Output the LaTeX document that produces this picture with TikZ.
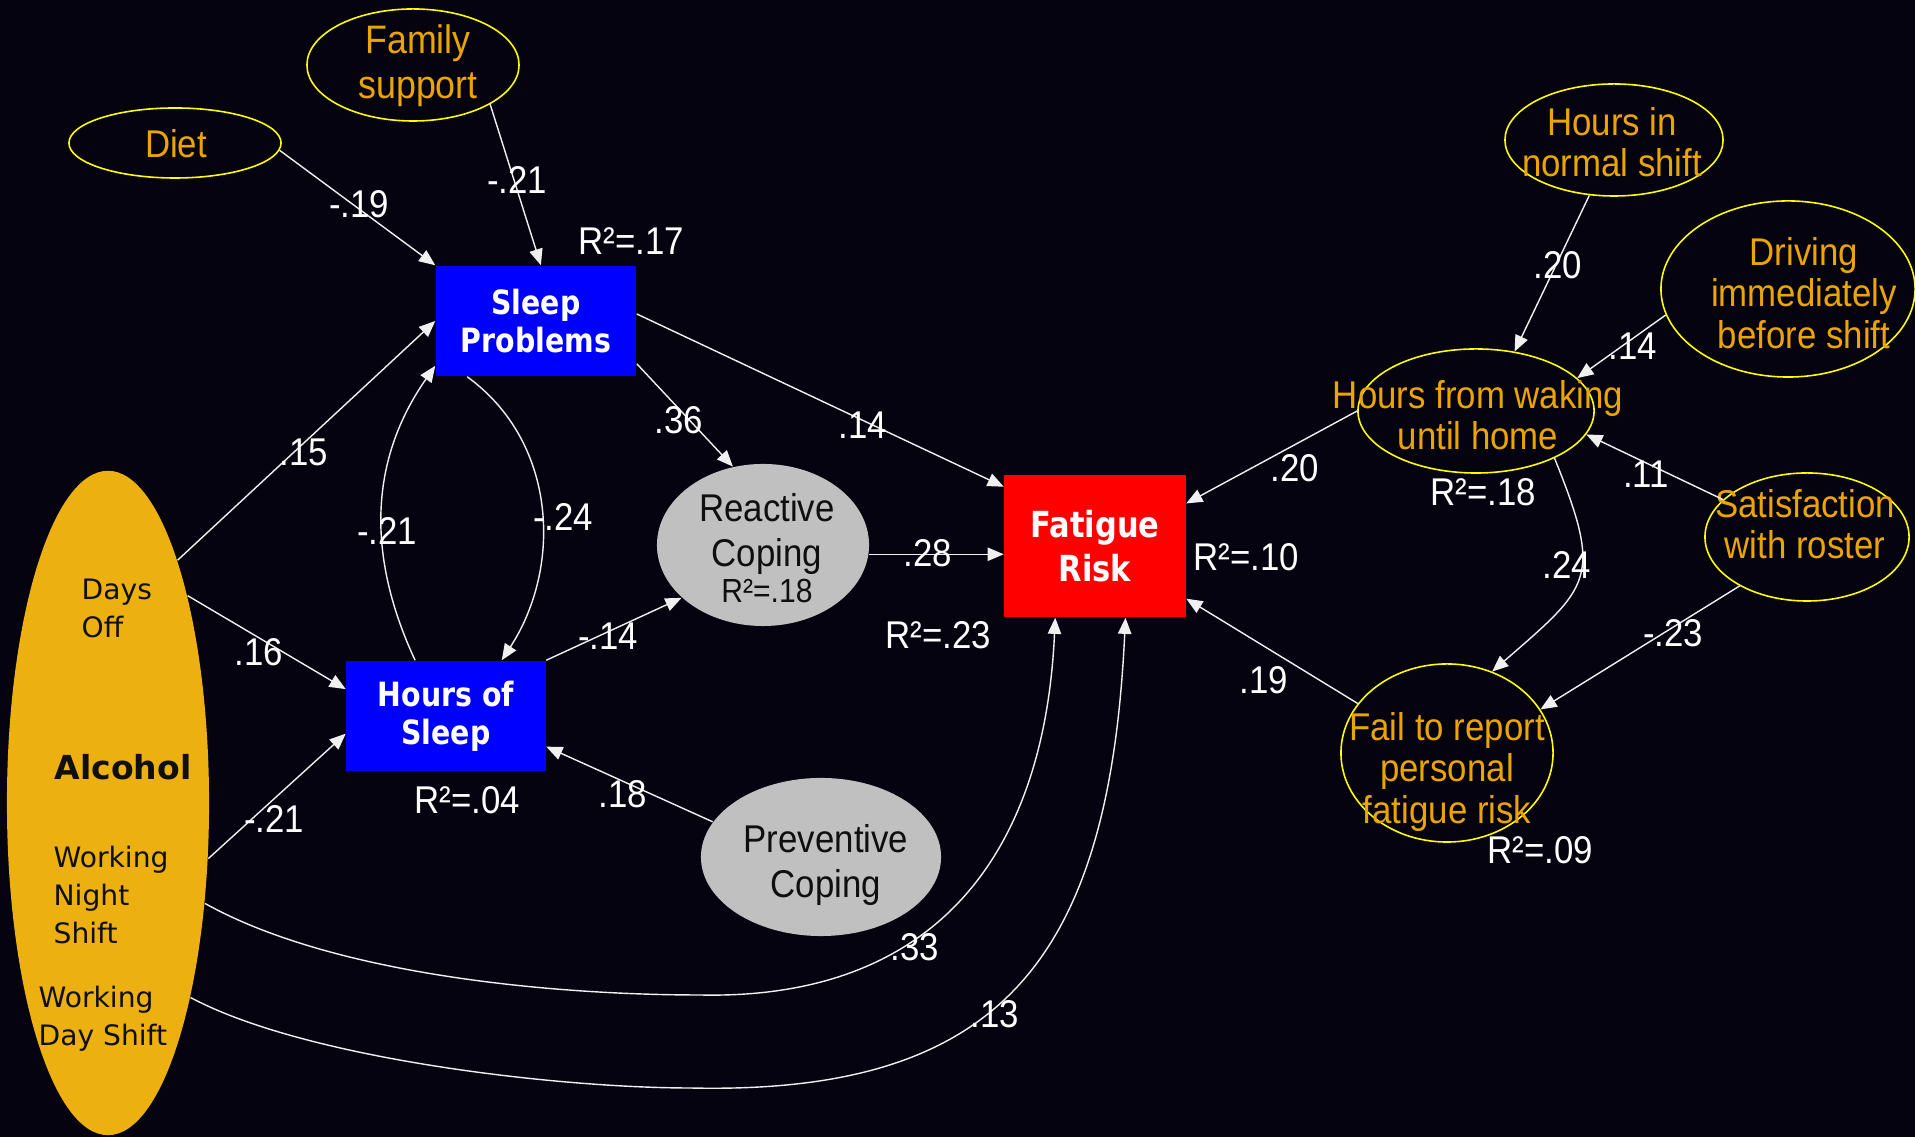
\documentclass[tikz,border=0pt]{standalone}
\usepackage{fontspec}
\setmainfont{Liberation Sans}[FakeStretch=0.9]
\newfontfamily\boxfont{DejaVu Sans}[FakeStretch=0.85]
\newfontfamily\alcfont{DejaVu Sans}
\usetikzlibrary{arrows.meta,shapes.geometric}
\definecolor{bgcol}{RGB}{5,3,16}
\definecolor{gold}{RGB}{235,165,0}
\definecolor{alcfill}{RGB}{236,176,16}
\definecolor{ringcol}{RGB}{255,255,0}
\definecolor{copefill}{RGB}{192,192,192}
\definecolor{linecol}{RGB}{240,240,240}
\definecolor{inkcol}{RGB}{15,15,15}

\begin{document}
\begin{tikzpicture}[x=0.01cm,y=0.01cm,
    font=\fontsize{11}{12.8}\selectfont,
    oval/.style={ellipse,draw=ringcol,line width=0.45pt,inner sep=0pt},
    ovaltext/.style={text=gold,align=center,inner sep=0pt,
      font=\fontsize{11}{11.8}\selectfont},
    coping/.style={ellipse,fill=copefill,inner sep=0pt},
    copetext/.style={text=inkcol,align=center,inner sep=0pt},
    box/.style={rectangle,inner sep=0pt,text=white,align=center,
      font=\boxfont\bfseries\fontsize{9.5}{10.8}\selectfont},
    alctext/.style={text=inkcol,align=left,inner sep=0pt,anchor=west,
      font=\alcfont\fontsize{8}{10.8}\selectfont},
    coef/.style={text=white,inner sep=0pt},
    link/.style={draw=linecol,line width=0.4pt,
      -{Triangle[length=4.6pt,width=3.8pt]}},
  ]
  % page
  \fill[bgcol] (0,0) rectangle (1915,1137);
  \useasboundingbox (0,0) rectangle (1915,1137);

  % left block
  \node[ellipse,fill=alcfill,minimum width=2.02cm,minimum height=6.64cm,inner sep=0pt] (alc) at (108,334) {};
  \node[alctext] (daysoff) at (81,529) {Days\\Off};
  \node[alctext,font=\alcfont\bfseries\fontsize{9.4}{11}\selectfont] (alcohol) at (54,370) {Alcohol};
  \node[alctext] (night) at (53,242) {Working\\Night\\Shift};
  \node[alctext] (dayshift) at (38,118) {Working\\Day Shift};

  % boxes
  \node[box,fill=blue,minimum width=2cm,minimum height=1.1cm] (sp) at (536,816) {Sleep\\Problems};
  \node[box,fill=blue,minimum width=1.99cm,minimum height=1.1cm] (hos) at (446,421) {Hours of\\Sleep};
  \node[box,fill=red,minimum width=1.81cm,minimum height=1.42cm,
    font=\boxfont\bfseries\fontsize{10.2}{12.5}\selectfont] (fat) at (1095,591) {Fatigue\\Risk};

  % coping
  \node[coping,minimum width=2.12cm,minimum height=1.62cm] (rc) at (763,592) {};
  \node[copetext] (rc-t) at (767,589) {Reactive\\Coping\\[-2.4pt]{\fontsize{9.5}{10}\selectfont R²=.18}};
  \node[coping,minimum width=2.40cm,minimum height=1.58cm] (pc) at (821,280) {};
  \node[copetext] (pc-t) at (826,272) {Preventive\\Coping};

  % yellow rings
  \node[oval,minimum width=2.12cm,minimum height=0.70cm] (diet) at (175,994) {};
  \node[ovaltext] (diet-t) at (176,993) {Diet};
  \node[oval,minimum width=2.12cm,minimum height=1.12cm] (fam) at (413,1072) {};
  \node[ovaltext,font=\fontsize{11.3}{12.8}\selectfont] (fam-t) at (418,1071) {Family\\support};
  \node[oval,minimum width=2.18cm,minimum height=1.12cm] (hins) at (1614,997) {};
  \node[ovaltext] (hins-t) at (1612,995) {Hours in\\normal shift};
  \node[oval,minimum width=2.54cm,minimum height=1.76cm] (drv) at (1788,848) {};
  \node[ovaltext] (drv-t) at (1804,844) {Driving\\immediately\\before shift};
  \node[oval,minimum width=2.36cm,minimum height=1.24cm] (hfw) at (1476,726) {};
  \node[ovaltext] (hfw-t) at (1478,722) {Hours from waking\\until home};
  \node[oval,minimum width=2.04cm,minimum height=1.28cm] (sat) at (1807,600) {};
  \node[ovaltext] (sat-t) at (1805,613) {Satisfaction\\with roster};
  \node[oval,minimum width=2.12cm,minimum height=1.78cm] (fail) at (1447,384) {};
  \node[ovaltext] (fail-t) at (1447,365) {Fail to report\\personal\\fatigue risk};

  \coordinate (bend1) at (700,142);
  \coordinate (bend2) at (690,49);

  % paths
  \draw[link] (diet.-4) -- (sp.north west);
  \draw[link] (fam.-27) -- (sp.85);
  \draw[link] (alc.74) -- (sp.west);
  \draw[link] (alc.69) -- (hos.165);
  \draw[link] (alc.-29) -- (hos.190);
  \draw[link] (hos.119) to[out=115,in=235] (sp.204);
  \draw[link] (sp.219) to[out=-36,in=57] (hos.45);
  \draw[link] (sp.-23) -- (rc.111);
  \draw[link] (sp.4) -- (fat.147);
  \draw[link] (hos.north east) -- (rc.213);
  \draw[link] (rc.-5) -- (rc.-5 -| fat.west);
  \draw[link] (pc.162) -- (hos.-17);
  \draw[link] (alc.-46) .. controls +(131,-73) and +(-140,0) .. (bend1)
    .. controls +(230,-5) and +(-11,-243) .. (fat.-119);
  \draw[link] (alc.-67) .. controls +(116,-62) and +(-130,0) .. (bend2)
    .. controls +(310,-7) and +(-16,-343) .. (fat.-67);
  \draw[link] (hfw.west) -- (fat.25);
  \draw[link] (fail.151) -- (fat.-30);
  \draw[link] (hins.246) -- (hfw.57);
  \draw[link] (drv.192) -- (hfw.18);
  \draw[link] (sat.156) -- (hfw.-12);
  \draw[link] (sat.216) -- (fail.25);
  \draw[link] (hfw.-31) to[out=-68,in=41,looseness=1.5] (fail.61);

  % coefficients
  \node[coef] (c-diet) at (359,933) {-.19};
  \node[coef] (c-fam) at (517,957) {-.21};
  \node[coef] (r-sp) at (631,896) {R²=.17};
  \node[coef] (c-sprc) at (679,717) {.36};
  \node[coef] (c-spfat) at (863,712) {.14};
  \node[coef] (c-offsp) at (304,685) {.15};
  \node[coef] (c-hossp) at (387,606) {-.21};
  \node[coef] (c-sphos) at (563,620) {-.24};
  \node[coef] (c-rcfat) at (928,584) {.28};
  \node[coef] (r-fat) at (938,502) {R²=.23};
  \node[coef] (c-hosrc) at (608,501) {-.14};
  \node[coef] (c-offhos) at (259,485) {.16};
  \node[coef] (r-hos) at (467,337) {R²=.04};
  \node[coef] (c-pchos) at (623,343) {.18};
  \node[coef] (c-nighthos) at (274,318) {-.21};
  \node[coef] (c-nightfat) at (915,190) {.33};
  \node[coef] (c-dayfat) at (995,123) {.13};
  \node[coef] (r-fat2) at (1246,580) {R²=.10};
  \node[coef] (c-hfwfat) at (1295,669) {.20};
  \node[coef] (c-failfat) at (1264,457) {.19};
  \node[coef] (c-hinshfw) at (1558,872) {.20};
  \node[coef] (c-drvhfw) at (1633,791) {.14};
  \node[coef] (r-hfw) at (1483,645) {R²=.18};
  \node[coef] (c-sathfw) at (1646,663) {.11};
  \node[coef] (c-hfwfail) at (1567,572) {.24};
  \node[coef] (c-satfail) at (1673,504) {-.23};
  \node[coef] (r-fail) at (1540,287) {R²=.09};
\end{tikzpicture}
\end{document}
